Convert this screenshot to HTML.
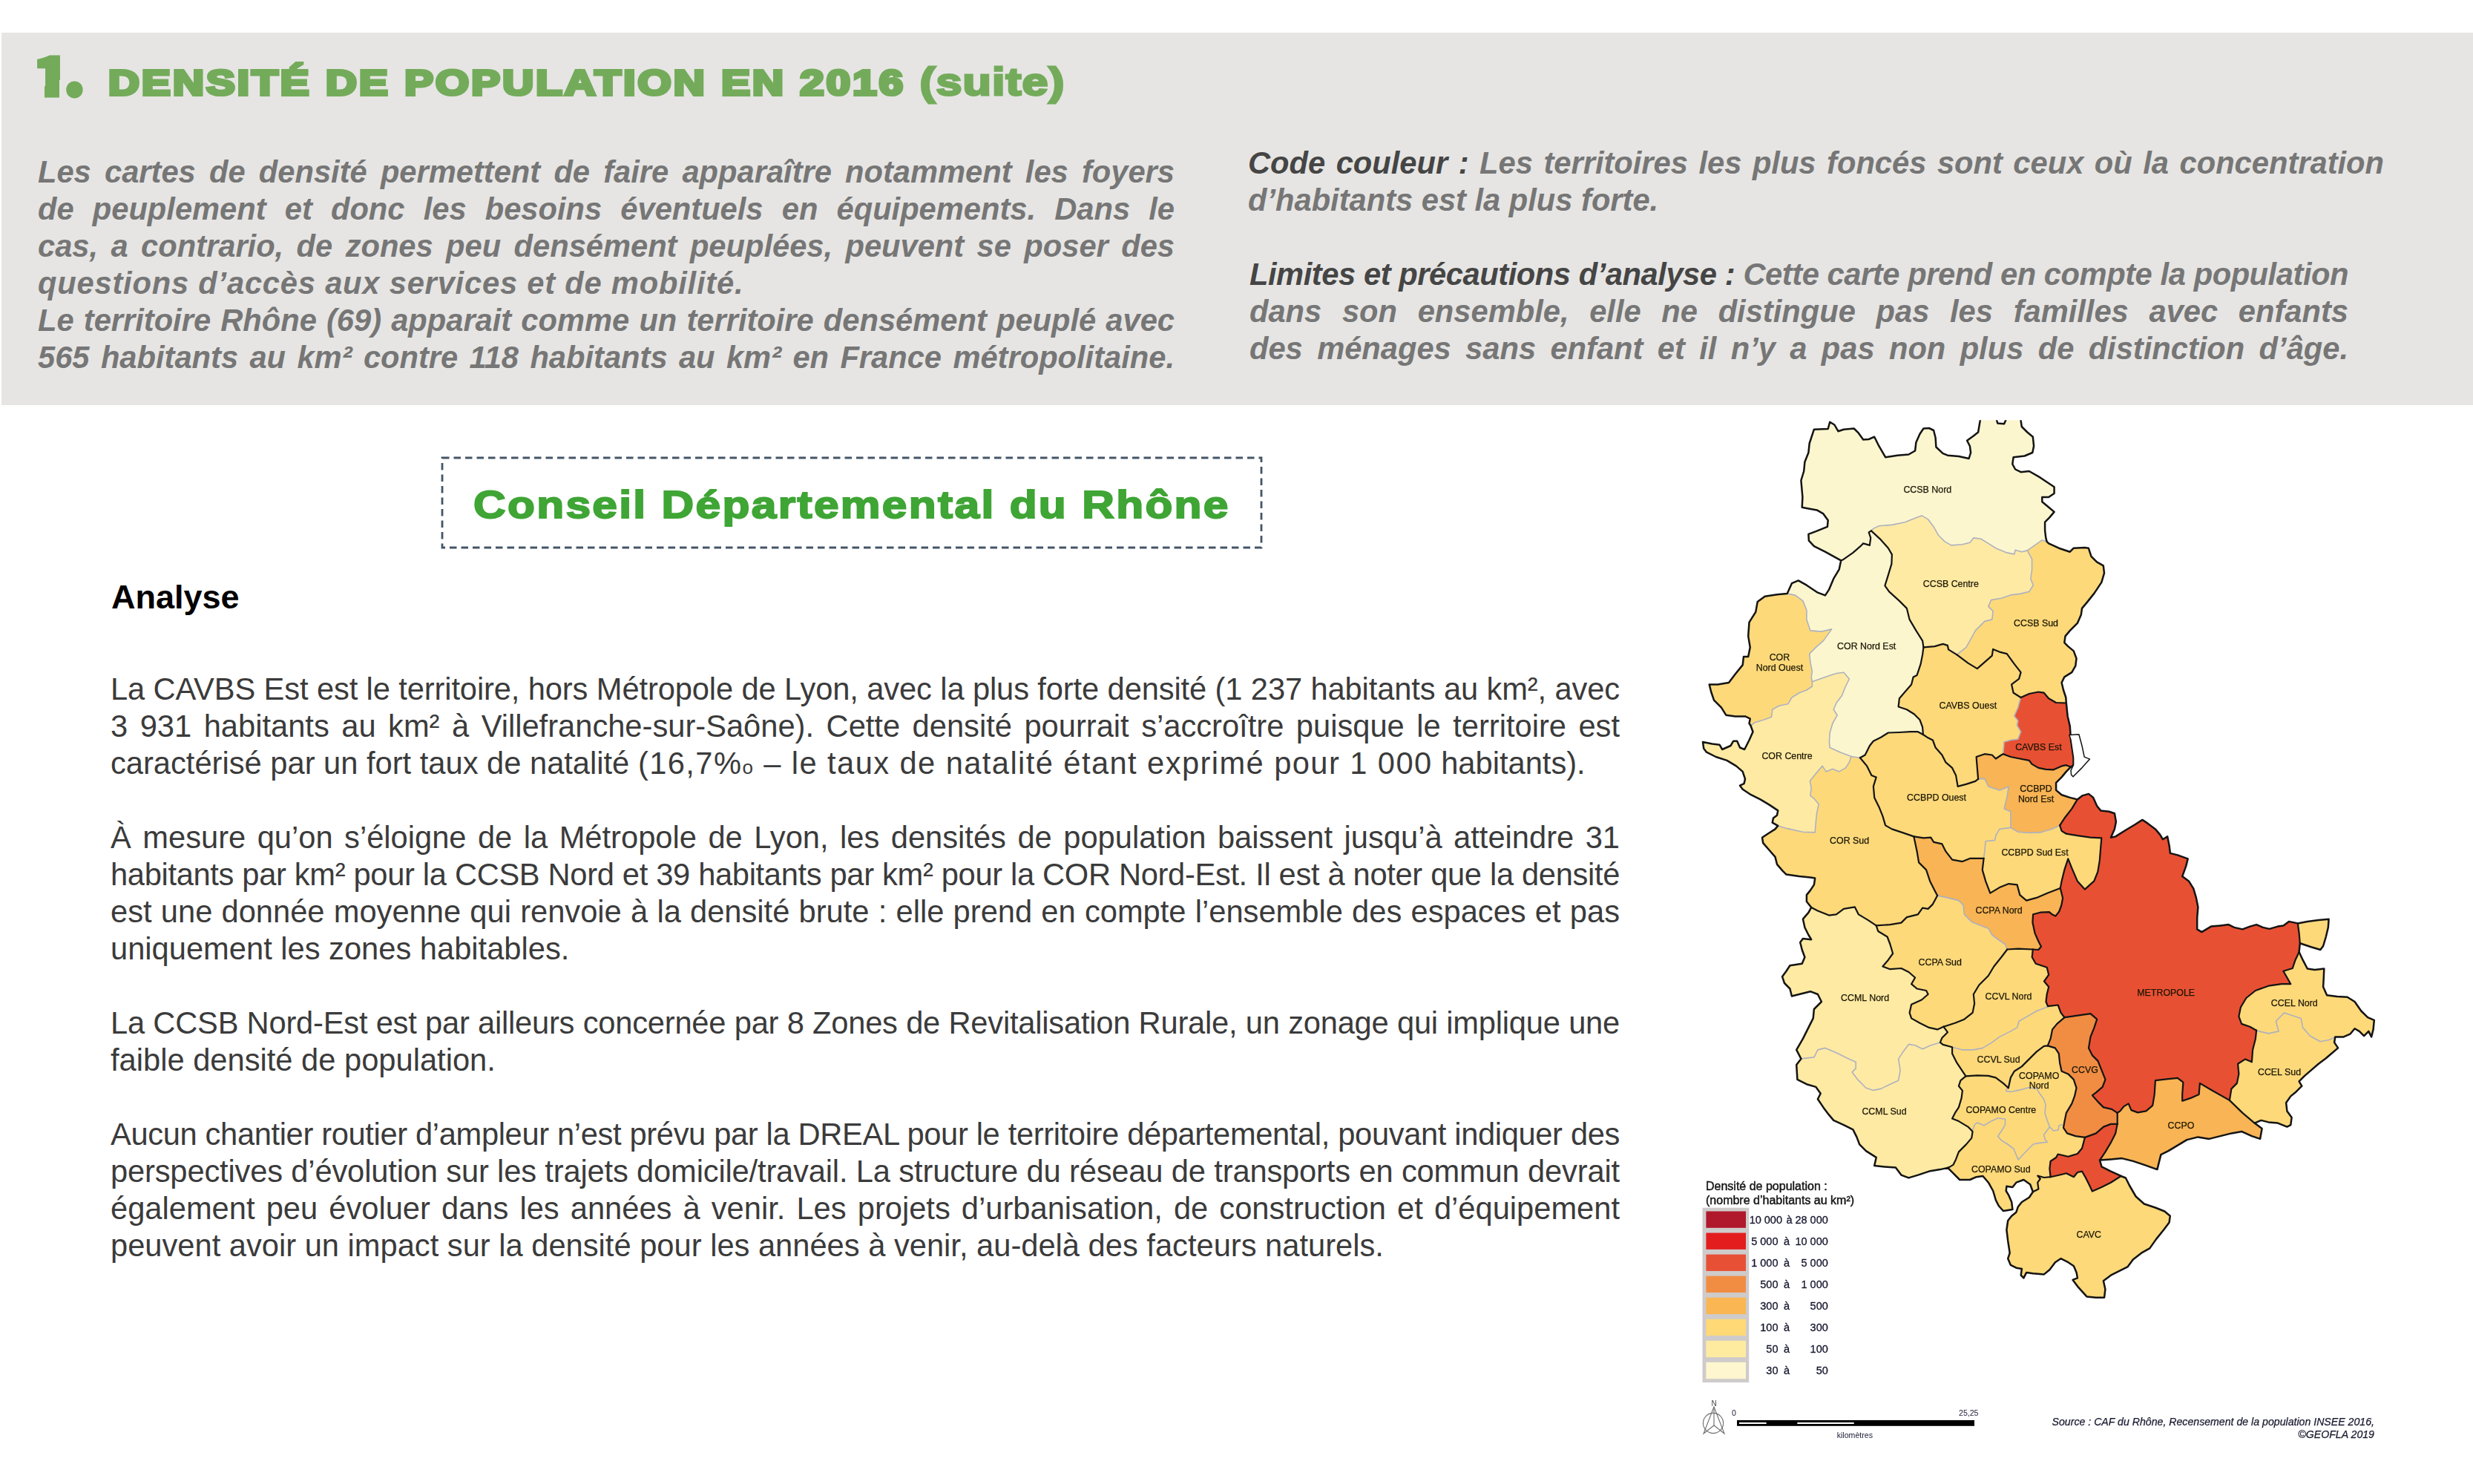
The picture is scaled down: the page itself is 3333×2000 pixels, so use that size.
<!DOCTYPE html>
<html lang="fr"><head><meta charset="utf-8"><title>Densité de population en 2016 (suite)</title>
<style>
html,body{margin:0;padding:0;background:#fff;}
body{width:3333px;height:2000px;position:relative;overflow:hidden;font-family:"Liberation Sans",sans-serif;}
.band{position:absolute;left:2px;top:44px;width:3331px;height:502px;background:#e6e5e3;}
.abs{position:absolute;}
.hnum{font-family:"Noto Sans CJK JP","Liberation Sans",sans-serif;font-weight:900;color:#73ab5a;white-space:nowrap;transform-origin:0 0;}
.htitle{left:146px;top:77.2px;font-size:47.5px;line-height:70px;font-weight:bold;color:#73ab5a;-webkit-text-stroke:4.2px #73ab5a;white-space:nowrap;letter-spacing:2.63px;transform:scaleX(1.22);transform-origin:0 0;}
.it{font-style:italic;font-weight:bold;font-size:41.67px;line-height:50px;color:#767676;text-align:justify;}
.it b{color:#454545;}
.jl{display:block;text-align:justify;text-align-last:justify;white-space:nowrap;}
.ll{display:block;text-align:left;white-space:nowrap;}
.body{font-size:41.67px;line-height:50px;color:#3b3b3b;}
.cd{left:596px;top:617px;width:1104px;height:121px;}
.cdt{left:637.5px;top:645px;font-size:52.5px;line-height:70px;font-weight:bold;color:#3fa535;-webkit-text-stroke:2px #3fa535;white-space:nowrap;letter-spacing:2.04px;transform:scaleX(1.15);transform-origin:0 0;}
.an{left:150px;top:779.5px;font-size:45px;line-height:50px;font-weight:bold;color:#000;white-space:nowrap;}
</style></head><body>
<div class="band"></div>
<div class="abs hnum" id="h1" style="left:44.5px;top:48px;font-size:71.5px;line-height:100px;-webkit-text-stroke:5px #73ab5a;transform:scaleX(1.12)">1</div><div class="abs" style="left:40px;top:108px;width:20px;height:28px;background:#e6e5e3"></div><div class="abs" style="left:80.3px;top:108px;width:34px;height:28px;background:#e6e5e3"></div><div class="abs hnum" id="hdot" style="left:86px;top:44px;font-size:82px;line-height:100px;-webkit-text-stroke:5px #73ab5a">.</div>
<div class="abs htitle">DENSITÉ DE POPULATION EN 2016 <span style="-webkit-text-stroke-width:2.8px;letter-spacing:0.9px;font-size:51.5px;line-height:0">(suite)</span></div>

<div class="abs it" style="left:51px;top:207px;width:1532px;">
<span class="jl">Les cartes de densité permettent de faire apparaître notamment les foyers</span>
<span class="jl">de peuplement et donc les besoins éventuels en équipements. Dans le</span>
<span class="jl">cas, a contrario, de zones peu densément peuplées, peuvent se poser des</span>
<span class="ll" style="letter-spacing:0.8px">questions d’accès aux services et de mobilité.</span>
<span class="jl">Le territoire Rhône (69) apparait comme un territoire densément peuplé avec</span>
<span class="jl">565 habitants au km² contre 118 habitants au km² en France métropolitaine.</span>
</div>

<div class="abs it" style="left:1682px;top:195px;width:1531px;">
<span class="jl"><b>Code couleur :</b> Les territoires les plus foncés sont ceux où la concentration</span>
<span class="ll">d’habitants est la plus forte.</span>
</div>
<div class="abs it" style="left:1684px;top:345px;width:1481px;">
<span class="jl" style="letter-spacing:-0.45px"><b>Limites et précautions d’analyse :</b> Cette carte prend en compte la population</span>
<span class="jl">dans son ensemble, elle ne distingue pas les familles avec enfants</span>
<span class="jl">des ménages sans enfant et il n’y a pas non plus de distinction d’âge.</span>
</div>

<svg class="abs cd" viewBox="0 0 1104 121" style="overflow:visible"><rect x="0" y="0" width="1104" height="121" fill="none" stroke="#445566" stroke-width="2.8" stroke-dasharray="9.5 6"/></svg>
<div class="abs cdt">Conseil Départemental du Rhône</div>
<div class="abs an">Analyse</div>

<div class="abs body" style="left:149px;top:904px;width:2034px;">
<span class="jl" style="letter-spacing:-0.125px">La CAVBS Est est le territoire, hors Métropole de Lyon, avec la plus forte densité (1 237 habitants au km², avec</span>
<span class="jl">3 931 habitants au km² à Villefranche-sur-Saône). Cette densité pourrait s’accroître puisque le territoire est</span>
<span class="ll">caractérisé par un fort taux de natalité <span style="letter-spacing:1.42px">(16,7%<span style="font-size:26px;line-height:0">o</span> – le taux de natalité étant exprimé pour 1 000</span> habitants).</span>
<span class="ll">&nbsp;</span>
<span class="jl">À mesure qu’on s’éloigne de la Métropole de Lyon, les densités de population baissent jusqu’à atteindre 31</span>
<span class="jl" style="letter-spacing:-0.335px">habitants par km² pour la CCSB Nord et 39 habitants par km² pour la COR Nord-Est. Il est à noter que la densité</span>
<span class="jl">est une donnée moyenne qui renvoie à la densité brute : elle prend en compte l’ensemble des espaces et pas</span>
<span class="ll">uniquement les zones habitables.</span>
<span class="ll">&nbsp;</span>
<span class="jl" style="letter-spacing:-0.215px">La CCSB Nord-Est est par ailleurs concernée par 8 Zones de Revitalisation Rurale, un zonage qui implique une</span>
<span class="ll">faible densité de population.</span>
<span class="ll">&nbsp;</span>
<span class="jl" style="letter-spacing:-0.36px">Aucun chantier routier d’ampleur n’est prévu par la DREAL pour le territoire départemental, pouvant indiquer des</span>
<span class="jl" style="letter-spacing:-0.165px">perspectives d’évolution sur les trajets domicile/travail. La structure du réseau de transports en commun devrait</span>
<span class="jl">également peu évoluer dans les années à venir. Les projets d’urbanisation, de construction et d’équipement</span>
<span class="ll">peuvent avoir un impact sur la densité pour les années à venir, au-delà des facteurs naturels.</span>
</div>

<!--MAP-->
<svg class="abs" style="left:0;top:0" width="3333" height="2000" viewBox="0 0 3333 2000">
<defs><clipPath id="dep"><polygon points="2481.2,755.4 2459.9,743.7 2444.9,736.2 2437.9,728.7 2437.4,719.9 2447.4,716.2 2462.9,709.9 2463.7,701.2 2457.4,692.4 2448.7,687.4 2434.9,684.9 2428.7,683.7 2429.4,670 2427.4,647.5 2431.2,635 2432.4,622.5 2437.4,610 2438.7,597.5 2444.9,578.7 2463.7,578 2466.2,568.7 2472.4,572.5 2477.4,581.2 2484.9,578.7 2498.7,577.5 2504.9,583.7 2511.2,592.5 2518.7,592 2526.2,588.7 2532.4,601.2 2541.1,616.2 2557.4,613.7 2572.4,612.5 2581.1,607.5 2582.4,596.2 2587.4,585 2592.4,577.5 2599.9,577 2606.1,580 2608.6,590 2609.4,602.5 2618.6,611.2 2624.9,613.7 2639.9,615 2653.6,618 2656.1,610 2654.9,601.2 2651.1,593.7 2659.8,587.5 2666.1,582.5 2668.6,567.5 2670.3,555 2687.8,555 2692.3,570.5 2701.1,571.2 2708.1,555 2721.8,555 2724.8,575 2732.3,582.5 2739.8,588.7 2741.1,601.2 2739.3,610 2728.6,614.5 2713.6,616.2 2712.3,625.5 2716.1,632.5 2723.6,636.2 2734.8,635 2749.8,643.7 2768.6,656.2 2768.6,665 2761.1,670 2752.3,670 2752.3,676.2 2759.8,682.5 2768.6,689.9 2762.3,697.4 2756.1,703.7 2756.1,714.9 2757.3,724.9 2758.6,729.9 2761.1,732.4 2774.8,738.7 2789.8,743.7 2794.8,738.7 2809.8,737.9 2814.8,738.7 2818.5,749.9 2826,757.4 2834.8,762.4 2836,772.4 2832.3,784.9 2822.3,799.9 2812.3,812.4 2806,819.9 2804.8,828.6 2799.8,839.9 2789.8,849.9 2783.5,857.4 2782.3,866.1 2787.3,871.1 2794.8,877.4 2798.5,887.4 2797.3,897.4 2792.3,906.1 2782.3,912.4 2778.6,920 2781,930 2784.3,940 2784.8,947.5 2786.7,965.5 2789.8,978.8 2791,997 2792.8,1009.2 2794.6,1021.3 2794.6,1031 2791,1033.7 2784.8,1039.9 2778.6,1047.4 2771.1,1054.9 2771.1,1064.9 2778.6,1071.2 2789.8,1074.9 2799.8,1077.4 2800.5,1076.9 2806.2,1072.4 2815,1069.9 2821.2,1074.9 2826.2,1086.2 2831.2,1092.4 2842.4,1093.7 2849.9,1096.2 2851.9,1107.4 2849.9,1117.4 2844.9,1128.7 2851.2,1127.4 2864.9,1118.7 2877.4,1111.2 2887.4,1104.9 2894.9,1109.9 2904.9,1117.4 2911.2,1124.9 2914.9,1131.2 2921.2,1127.4 2923.7,1139.9 2924.9,1149.9 2934.9,1152.4 2948.7,1157.4 2946.2,1167.4 2941.2,1181.1 2949.9,1187.4 2956.2,1197.4 2959.9,1209.9 2962.4,1222.4 2961.2,1237.4 2961.2,1252.4 2967.4,1256.1 2979.9,1248.6 2992.4,1247.4 3003.6,1246.1 3011.1,1249.9 3022.4,1252.4 3032.4,1248.6 3041.1,1246.1 3049.9,1249.9 3058.6,1251.9 3069.9,1248.6 3077.4,1247.4 3084.9,1241.9 3096.8,1244.4 3096.8,1244.5 3109.8,1242 3124.8,1240 3138.6,1238.8 3137.8,1250 3134.8,1262.5 3131.1,1275 3127.3,1280 3114.8,1276.2 3099.8,1271.2 3098.6,1283 3103.6,1293.7 3109.8,1305.5 3119.8,1307 3132.3,1305.5 3131.8,1317.5 3131.1,1330 3136.1,1341.2 3149.8,1343 3163.6,1343.7 3173.6,1350 3182.3,1362.5 3191.1,1371.2 3199.8,1374.9 3198.6,1387.4 3196.1,1397.4 3192.3,1389.9 3186.1,1396.2 3179.8,1389.9 3173.6,1386.2 3167.3,1393.7 3158.6,1397.4 3147.3,1397.4 3146.1,1404.9 3151.1,1412.4 3143.6,1418.7 3134.8,1426.2 3124.8,1433.7 3114.8,1442.4 3106.1,1449.9 3098.6,1457.4 3102.3,1463.7 3094.8,1471.2 3087.3,1477.4 3081.1,1486.2 3082.4,1497.4 3088.6,1506.1 3087.3,1516.1 3082.4,1518.6 3069.9,1513.6 3057.4,1512.4 3047.4,1509.9 3038.6,1513.6 3048.6,1521.1 3046.1,1534.9 3034.9,1531.1 3021.1,1524.9 3007.4,1527.4 2992.4,1531.1 2977.4,1534.9 2962.4,1532.4 2947.4,1536.1 2934.9,1543.6 2922.4,1551.1 2912.4,1556.1 2907.4,1576.1 2889.9,1569.9 2874.9,1564.9 2859.9,1561.1 2844.9,1562.4 2830,1563.6 2832.5,1572.4 2844.9,1578.6 2858.7,1584.9 2858.6,1585 2864.9,1587.5 2869.9,1597.5 2878.6,1612.5 2889.8,1622.5 2904.8,1627.5 2917.3,1632.5 2924.8,1638.7 2923.6,1647.5 2916.1,1657.5 2906.1,1669.9 2897.3,1682.4 2886.1,1688.7 2874.8,1697.4 2867.4,1707.4 2857.4,1712.4 2844.9,1718.7 2834.9,1726.2 2837.4,1737.4 2836.1,1748.7 2824.9,1748.7 2812.4,1747.4 2801.1,1734.9 2793.6,1724.9 2799.9,1722.4 2798.6,1714.9 2794.9,1706.2 2787.4,1701.2 2777.4,1696.2 2769.9,1701.2 2762.4,1711.2 2754.9,1717.4 2739.9,1716.2 2731.2,1714.9 2727.4,1722.4 2723.7,1718.7 2724.9,1709.9 2717.4,1708.7 2709.9,1704.9 2706.2,1696.2 2708.7,1688.7 2706.2,1672.4 2704.4,1657.5 2706.2,1645 2711.2,1638.7 2717.4,1633.7 2719.9,1626.2 2724.9,1620 2734.9,1613.7 2739.9,1606.2 2736.2,1596.2 2727.4,1590 2717.4,1593.7 2712.4,1600 2704.4,1598.7 2703.7,1605 2707.4,1611.2 2711.2,1620 2712.4,1630 2699.9,1632 2693.7,1625 2689.9,1617.5 2686.2,1605 2679.9,1593.7 2672.4,1585 2663.7,1586.2 2654.9,1590 2641.2,1590 2632.4,1581.2 2624.9,1573.7 2626.1,1573.6 2614.9,1576.1 2599.9,1578.6 2584.9,1583.6 2572.4,1587.4 2562.4,1583.6 2554.9,1573.6 2539.9,1572.4 2526.2,1571.1 2528.7,1559.9 2514.9,1551.1 2506.2,1542.4 2502.4,1532.4 2497.4,1522.4 2484.9,1516.1 2471.2,1509.9 2464.9,1502.4 2457.4,1492.4 2449.9,1481.2 2453.7,1473.7 2447.4,1464.9 2434.9,1461.2 2422.4,1454.9 2421.2,1434.9 2427.4,1426.9 2421.2,1414.9 2429.9,1399.9 2437.4,1384.9 2443.7,1372.4 2444.9,1360 2454.9,1350 2449.9,1340 2439.9,1336.2 2424.9,1340 2414.9,1342.5 2412.4,1332.5 2405,1325 2402,1316.2 2407.5,1308.7 2412.4,1301.2 2428.7,1298.7 2432.4,1290 2428.7,1280 2426.2,1270 2429.9,1265 2441.2,1266.2 2437.4,1260 2432.4,1250 2429.9,1238.6 2437.4,1229.9 2441.2,1222.9 2434.9,1214.9 2434.9,1206.1 2439.9,1199.9 2444.9,1192.4 2446.2,1183.6 2439.9,1182.4 2424.9,1181.1 2407.5,1178.6 2402.5,1173.6 2395,1164.9 2392.5,1154.9 2385,1146.2 2376.2,1136.2 2375,1128.7 2382.5,1123.7 2392.5,1117.4 2396.2,1112.9 2388.7,1108.7 2390,1102.4 2395,1098.7 2396.2,1092.4 2385,1084.9 2372.5,1077.4 2360,1071.2 2348.7,1063.7 2345,1058.7 2350.5,1056.2 2352,1049.9 2348.7,1039.9 2340,1032.4 2327.5,1024.9 2312.5,1020 2300,1013.7 2296.2,1008.7 2295,1000 2307.5,1002.5 2317.5,1003.7 2321.2,1010 2332.5,1005 2336.2,998.7 2341.2,998.7 2345,1007.5 2351.2,1010 2357.5,997.5 2362.5,986.2 2359.5,978 2357.5,975 2358.7,968.7 2352.5,965.5 2338.7,965.5 2326.2,963.7 2320,953.7 2310,943.7 2306.2,932.5 2303.7,922.4 2315,922.4 2330,919.9 2338.7,908.6 2348.7,896.1 2350,884.9 2356.2,884.9 2358.7,872.4 2356.2,857.4 2357.5,838.6 2366.2,824.9 2368.7,811.1 2378.7,803.7 2395,801.2 2408.7,799.9 2414.9,786.2 2423.7,782.4 2434.9,788.7 2449.9,798.7 2459.9,802.4 2464.9,794.9 2471.2,779.9 2478.7,767.4 2481.2,755.4"/></clipPath></defs>
<defs><clipPath id="mapclip"><rect x="2280" y="566.3" width="960" height="1400"/></clipPath></defs>
<g clip-path="url(#mapclip)"><g style="filter:blur(0.75px)">
<g clip-path="url(#dep)">
<polygon points="2481.2,755.4 2459.9,743.7 2444.9,736.2 2437.9,728.7 2437.4,719.9 2447.4,716.2 2462.9,709.9 2463.7,701.2 2457.4,692.4 2448.7,687.4 2434.9,684.9 2428.7,683.7 2429.4,670 2427.4,647.5 2431.2,635 2432.4,622.5 2437.4,610 2438.7,597.5 2444.9,578.7 2463.7,578 2466.2,568.7 2472.4,572.5 2477.4,581.2 2484.9,578.7 2498.7,577.5 2504.9,583.7 2511.2,592.5 2518.7,592 2526.2,588.7 2532.4,601.2 2541.1,616.2 2557.4,613.7 2572.4,612.5 2581.1,607.5 2582.4,596.2 2587.4,585 2592.4,577.5 2599.9,577 2606.1,580 2608.6,590 2609.4,602.5 2618.6,611.2 2624.9,613.7 2639.9,615 2653.6,618 2656.1,610 2654.9,601.2 2651.1,593.7 2659.8,587.5 2666.1,582.5 2668.6,567.5 2670.3,555 2687.8,555 2692.3,570.5 2701.1,571.2 2708.1,555 2721.8,555 2724.8,575 2732.3,582.5 2739.8,588.7 2741.1,601.2 2739.3,610 2728.6,614.5 2713.6,616.2 2712.3,625.5 2716.1,632.5 2723.6,636.2 2734.8,635 2749.8,643.7 2768.6,656.2 2768.6,665 2761.1,670 2752.3,670 2752.3,676.2 2759.8,682.5 2768.6,689.9 2762.3,697.4 2756.1,703.7 2756.1,714.9 2757.3,724.9 2758.6,729.9 2761.1,732.4 2774.8,738.7 2789.8,743.7 2794.8,738.7 2809.8,737.9 2814.8,738.7 2818.5,749.9 2826,757.4 2834.8,762.4 2836,772.4 2832.3,784.9 2822.3,799.9 2812.3,812.4 2806,819.9 2804.8,828.6 2799.8,839.9 2789.8,849.9 2783.5,857.4 2782.3,866.1 2787.3,871.1 2794.8,877.4 2798.5,887.4 2797.3,897.4 2792.3,906.1 2782.3,912.4 2778.6,920 2781,930 2784.3,940 2784.8,947.5 2786.7,965.5 2789.8,978.8 2791,997 2792.8,1009.2 2794.6,1021.3 2794.6,1031 2791,1033.7 2784.8,1039.9 2778.6,1047.4 2771.1,1054.9 2771.1,1064.9 2778.6,1071.2 2789.8,1074.9 2799.8,1077.4 2800.5,1076.9 2806.2,1072.4 2815,1069.9 2821.2,1074.9 2826.2,1086.2 2831.2,1092.4 2842.4,1093.7 2849.9,1096.2 2851.9,1107.4 2849.9,1117.4 2844.9,1128.7 2851.2,1127.4 2864.9,1118.7 2877.4,1111.2 2887.4,1104.9 2894.9,1109.9 2904.9,1117.4 2911.2,1124.9 2914.9,1131.2 2921.2,1127.4 2923.7,1139.9 2924.9,1149.9 2934.9,1152.4 2948.7,1157.4 2946.2,1167.4 2941.2,1181.1 2949.9,1187.4 2956.2,1197.4 2959.9,1209.9 2962.4,1222.4 2961.2,1237.4 2961.2,1252.4 2967.4,1256.1 2979.9,1248.6 2992.4,1247.4 3003.6,1246.1 3011.1,1249.9 3022.4,1252.4 3032.4,1248.6 3041.1,1246.1 3049.9,1249.9 3058.6,1251.9 3069.9,1248.6 3077.4,1247.4 3084.9,1241.9 3096.8,1244.4 3096.8,1244.5 3109.8,1242 3124.8,1240 3138.6,1238.8 3137.8,1250 3134.8,1262.5 3131.1,1275 3127.3,1280 3114.8,1276.2 3099.8,1271.2 3098.6,1283 3103.6,1293.7 3109.8,1305.5 3119.8,1307 3132.3,1305.5 3131.8,1317.5 3131.1,1330 3136.1,1341.2 3149.8,1343 3163.6,1343.7 3173.6,1350 3182.3,1362.5 3191.1,1371.2 3199.8,1374.9 3198.6,1387.4 3196.1,1397.4 3192.3,1389.9 3186.1,1396.2 3179.8,1389.9 3173.6,1386.2 3167.3,1393.7 3158.6,1397.4 3147.3,1397.4 3146.1,1404.9 3151.1,1412.4 3143.6,1418.7 3134.8,1426.2 3124.8,1433.7 3114.8,1442.4 3106.1,1449.9 3098.6,1457.4 3102.3,1463.7 3094.8,1471.2 3087.3,1477.4 3081.1,1486.2 3082.4,1497.4 3088.6,1506.1 3087.3,1516.1 3082.4,1518.6 3069.9,1513.6 3057.4,1512.4 3047.4,1509.9 3038.6,1513.6 3048.6,1521.1 3046.1,1534.9 3034.9,1531.1 3021.1,1524.9 3007.4,1527.4 2992.4,1531.1 2977.4,1534.9 2962.4,1532.4 2947.4,1536.1 2934.9,1543.6 2922.4,1551.1 2912.4,1556.1 2907.4,1576.1 2889.9,1569.9 2874.9,1564.9 2859.9,1561.1 2844.9,1562.4 2830,1563.6 2832.5,1572.4 2844.9,1578.6 2858.7,1584.9 2858.6,1585 2864.9,1587.5 2869.9,1597.5 2878.6,1612.5 2889.8,1622.5 2904.8,1627.5 2917.3,1632.5 2924.8,1638.7 2923.6,1647.5 2916.1,1657.5 2906.1,1669.9 2897.3,1682.4 2886.1,1688.7 2874.8,1697.4 2867.4,1707.4 2857.4,1712.4 2844.9,1718.7 2834.9,1726.2 2837.4,1737.4 2836.1,1748.7 2824.9,1748.7 2812.4,1747.4 2801.1,1734.9 2793.6,1724.9 2799.9,1722.4 2798.6,1714.9 2794.9,1706.2 2787.4,1701.2 2777.4,1696.2 2769.9,1701.2 2762.4,1711.2 2754.9,1717.4 2739.9,1716.2 2731.2,1714.9 2727.4,1722.4 2723.7,1718.7 2724.9,1709.9 2717.4,1708.7 2709.9,1704.9 2706.2,1696.2 2708.7,1688.7 2706.2,1672.4 2704.4,1657.5 2706.2,1645 2711.2,1638.7 2717.4,1633.7 2719.9,1626.2 2724.9,1620 2734.9,1613.7 2739.9,1606.2 2736.2,1596.2 2727.4,1590 2717.4,1593.7 2712.4,1600 2704.4,1598.7 2703.7,1605 2707.4,1611.2 2711.2,1620 2712.4,1630 2699.9,1632 2693.7,1625 2689.9,1617.5 2686.2,1605 2679.9,1593.7 2672.4,1585 2663.7,1586.2 2654.9,1590 2641.2,1590 2632.4,1581.2 2624.9,1573.7 2626.1,1573.6 2614.9,1576.1 2599.9,1578.6 2584.9,1583.6 2572.4,1587.4 2562.4,1583.6 2554.9,1573.6 2539.9,1572.4 2526.2,1571.1 2528.7,1559.9 2514.9,1551.1 2506.2,1542.4 2502.4,1532.4 2497.4,1522.4 2484.9,1516.1 2471.2,1509.9 2464.9,1502.4 2457.4,1492.4 2449.9,1481.2 2453.7,1473.7 2447.4,1464.9 2434.9,1461.2 2422.4,1454.9 2421.2,1434.9 2427.4,1426.9 2421.2,1414.9 2429.9,1399.9 2437.4,1384.9 2443.7,1372.4 2444.9,1360 2454.9,1350 2449.9,1340 2439.9,1336.2 2424.9,1340 2414.9,1342.5 2412.4,1332.5 2405,1325 2402,1316.2 2407.5,1308.7 2412.4,1301.2 2428.7,1298.7 2432.4,1290 2428.7,1280 2426.2,1270 2429.9,1265 2441.2,1266.2 2437.4,1260 2432.4,1250 2429.9,1238.6 2437.4,1229.9 2441.2,1222.9 2434.9,1214.9 2434.9,1206.1 2439.9,1199.9 2444.9,1192.4 2446.2,1183.6 2439.9,1182.4 2424.9,1181.1 2407.5,1178.6 2402.5,1173.6 2395,1164.9 2392.5,1154.9 2385,1146.2 2376.2,1136.2 2375,1128.7 2382.5,1123.7 2392.5,1117.4 2396.2,1112.9 2388.7,1108.7 2390,1102.4 2395,1098.7 2396.2,1092.4 2385,1084.9 2372.5,1077.4 2360,1071.2 2348.7,1063.7 2345,1058.7 2350.5,1056.2 2352,1049.9 2348.7,1039.9 2340,1032.4 2327.5,1024.9 2312.5,1020 2300,1013.7 2296.2,1008.7 2295,1000 2307.5,1002.5 2317.5,1003.7 2321.2,1010 2332.5,1005 2336.2,998.7 2341.2,998.7 2345,1007.5 2351.2,1010 2357.5,997.5 2362.5,986.2 2359.5,978 2357.5,975 2358.7,968.7 2352.5,965.5 2338.7,965.5 2326.2,963.7 2320,953.7 2310,943.7 2306.2,932.5 2303.7,922.4 2315,922.4 2330,919.9 2338.7,908.6 2348.7,896.1 2350,884.9 2356.2,884.9 2358.7,872.4 2356.2,857.4 2357.5,838.6 2366.2,824.9 2368.7,811.1 2378.7,803.7 2395,801.2 2408.7,799.9 2414.9,786.2 2423.7,782.4 2434.9,788.7 2449.9,798.7 2459.9,802.4 2464.9,794.9 2471.2,779.9 2478.7,767.4 2481.2,755.4" fill="#fdd97a"/>
<polygon points="2481.2,755.4 2459.9,743.7 2444.9,736.2 2437.9,728.7 2437.4,719.9 2447.4,716.2 2462.9,709.9 2463.7,701.2 2457.4,692.4 2448.7,687.4 2434.9,684.9 2428.7,683.7 2429.4,670 2427.4,647.5 2431.2,635 2432.4,622.5 2437.4,610 2438.7,597.5 2444.9,578.7 2463.7,578 2466.2,568.7 2472.4,572.5 2477.4,581.2 2484.9,578.7 2498.7,577.5 2504.9,583.7 2511.2,592.5 2518.7,592 2526.2,588.7 2532.4,601.2 2541.1,616.2 2557.4,613.7 2572.4,612.5 2581.1,607.5 2582.4,596.2 2587.4,585 2592.4,577.5 2599.9,577 2606.1,580 2608.6,590 2609.4,602.5 2618.6,611.2 2624.9,613.7 2639.9,615 2653.6,618 2656.1,610 2654.9,601.2 2651.1,593.7 2659.8,587.5 2666.1,582.5 2668.6,567.5 2670.3,555 2687.8,555 2692.3,570.5 2701.1,571.2 2708.1,555 2721.8,555 2724.8,575 2732.3,582.5 2739.8,588.7 2741.1,601.2 2739.3,610 2728.6,614.5 2713.6,616.2 2712.3,625.5 2716.1,632.5 2723.6,636.2 2734.8,635 2749.8,643.7 2768.6,656.2 2768.6,665 2761.1,670 2752.3,670 2752.3,676.2 2759.8,682.5 2768.6,689.9 2762.3,697.4 2756.1,703.7 2756.1,714.9 2757.3,724.9 2758.6,729.9 2752.3,727.9 2742.3,734.9 2732.3,741.9 2724.8,743.7 2716.1,741.2 2714.8,746.9 2704.8,744.9 2689.8,738.7 2679.8,732.4 2669.8,726.2 2659.8,724.9 2654.9,731.2 2644.9,733.7 2629.9,734.9 2621.1,729.9 2612.4,721.2 2606.1,709.9 2598.6,699.9 2589.9,694.9 2579.9,698.7 2567.4,703.7 2549.9,707.4 2532.4,708.7 2524.9,712.4 2521.9,715.4 2518.7,717.4 2521.2,724.9 2519.9,734.9 2511.2,732.4 2507.4,736.2 2497.4,744.9 2484.9,753.7 2481.2,755.4" fill="#fcf6cf" stroke="#fcf6cf" stroke-width="1"/>
<polygon points="2481.2,755.4 2484.9,753.7 2497.4,744.9 2507.4,736.2 2511.2,732.4 2519.9,734.9 2521.2,724.9 2518.7,717.4 2521.9,715.4 2534.9,727.4 2544.9,738.7 2549.9,747.4 2549.4,759.9 2544.9,774.9 2540.4,789.4 2546.1,797.4 2559.9,809.9 2569.9,819.9 2573.6,834.9 2582.4,849.9 2591.1,863.6 2592.4,872.4 2591.1,882.4 2588.6,894.9 2583.6,909.9 2578.6,912.5 2576.1,922.5 2567.4,932.5 2559.9,941.2 2558.6,952.5 2569.9,956.2 2579.9,962.5 2587.4,970 2591.1,980 2591.9,990 2584.9,986.2 2574.9,986.2 2559.9,987 2544.9,987.5 2534.9,993.7 2524.9,998.7 2519.9,1005 2513.7,1017.5 2506.9,1021.2 2494.9,1019.5 2479.9,1013.7 2466.2,1007.5 2465.4,1000 2466.2,987.5 2469.9,975 2476.2,963.7 2471.2,956.2 2474.9,947.5 2482.4,937.5 2487.4,925 2492.4,915 2484.9,906.2 2474.9,907.5 2459.9,912.5 2442.4,918.7 2441.2,912.5 2442.4,904.9 2439.9,892.4 2438.7,881.1 2447.4,872.4 2457.4,863.6 2463.7,854.9 2468.7,847.9 2454.9,851.1 2439.9,849.9 2434.9,834.9 2434.9,822.4 2429.9,809.9 2419.9,802.4 2408.7,799.9 2414.9,786.2 2423.7,782.4 2434.9,788.7 2449.9,798.7 2459.9,802.4 2464.9,794.9 2471.2,779.9 2478.7,767.4 2481.2,755.4" fill="#fcf6cf" stroke="#fcf6cf" stroke-width="1"/>
<polygon points="2521.9,715.4 2534.9,727.4 2544.9,738.7 2549.9,747.4 2549.4,759.9 2544.9,774.9 2540.4,789.4 2546.1,797.4 2559.9,809.9 2569.9,819.9 2573.6,834.9 2582.4,849.9 2591.1,863.6 2592.4,872.4 2607.4,871.1 2618.6,867.9 2624.9,869.9 2626.1,875.4 2637.4,882.4 2649.9,872.4 2654.9,863.6 2662.3,849.9 2674.8,837.4 2684.8,834.9 2686.1,823.6 2679.8,817.4 2683.6,808.6 2697.3,806.2 2709.8,801.9 2722.3,800.4 2734.8,797.4 2740.3,788.7 2736.8,779.9 2738.6,767.4 2738.6,753.7 2732.3,741.9 2724.8,743.7 2716.1,741.2 2714.8,746.9 2704.8,744.9 2689.8,738.7 2679.8,732.4 2669.8,726.2 2659.8,724.9 2654.9,731.2 2644.9,733.7 2629.9,734.9 2621.1,729.9 2612.4,721.2 2606.1,709.9 2598.6,699.9 2589.9,694.9 2579.9,698.7 2567.4,703.7 2549.9,707.4 2532.4,708.7 2524.9,712.4 2521.9,715.4" fill="#ffeaa3" stroke="#ffeaa3" stroke-width="1"/>
<polygon points="2442.4,918.7 2459.9,912.5 2474.9,907.5 2484.9,906.2 2492.4,915 2487.4,925 2482.4,937.5 2474.9,947.5 2471.2,956.2 2476.2,963.7 2469.9,975 2466.2,987.5 2465.4,1000 2466.2,1007.5 2479.9,1013.7 2494.9,1019.5 2492.4,1027.4 2487.4,1034.9 2478.7,1039.9 2469.9,1036.2 2461.2,1039.9 2456.2,1032.4 2447.4,1042.4 2439.4,1052.4 2441.2,1062.4 2439.9,1072.4 2444.9,1076.2 2451.2,1083.7 2448.7,1094.9 2447.4,1107.4 2446.2,1121.9 2429.9,1121.2 2409.9,1116.9 2396.2,1112.9 2388.7,1108.7 2390,1102.4 2395,1098.7 2396.2,1092.4 2385,1084.9 2372.5,1077.4 2360,1071.2 2348.7,1063.7 2345,1058.7 2350.5,1056.2 2352,1049.9 2348.7,1039.9 2340,1032.4 2327.5,1024.9 2312.5,1020 2300,1013.7 2296.2,1008.7 2295,1000 2307.5,1002.5 2317.5,1003.7 2321.2,1010 2332.5,1005 2336.2,998.7 2341.2,998.7 2345,1007.5 2351.2,1010 2357.5,997.5 2362.5,986.2 2359.5,978 2365,973.7 2377.5,970 2387.5,966.2 2388.7,956.2 2397.5,951.2 2409.9,948.7 2414.9,940 2424.9,933.7 2434.9,930 2442.4,925 2442.4,918.7" fill="#ffeaa3" stroke="#ffeaa3" stroke-width="1"/>
<polygon points="2441.2,1222.9 2449.9,1227.4 2464.9,1233.6 2474.9,1232.4 2484.9,1224.9 2499.9,1222.4 2504.9,1232.4 2517.4,1239.9 2528.7,1247.4 2531.2,1255 2543.6,1262.5 2547.4,1272.5 2551.1,1285 2544.9,1293.7 2537.4,1302.5 2547.4,1306.2 2562.4,1305 2572.4,1310 2581.1,1317.5 2576.1,1326.2 2583.6,1332.5 2596.1,1335 2598.6,1340 2589.9,1347.5 2576.1,1353.7 2573.6,1364.9 2576.1,1372.4 2587.4,1378.7 2599.9,1384.9 2611.1,1387.4 2619.4,1383.7 2624.9,1391.2 2617.4,1398.7 2614.9,1404.9 2618.6,1407.9 2631.1,1411.2 2631.1,1419.9 2637.4,1432.4 2644.9,1443.7 2649.4,1450.4 2642.4,1456.2 2639.9,1463.7 2644.9,1469.9 2643.6,1479.9 2639.9,1492.4 2634.9,1499.9 2631.1,1507.4 2639.9,1511.1 2652.4,1518.6 2658.6,1524.9 2657.3,1533.6 2649.9,1542.4 2639.9,1552.4 2636.1,1562.4 2632.4,1569.9 2626.1,1573.6 2614.9,1576.1 2599.9,1578.6 2584.9,1583.6 2572.4,1587.4 2562.4,1583.6 2554.9,1573.6 2539.9,1572.4 2526.2,1571.1 2528.7,1559.9 2514.9,1551.1 2506.2,1542.4 2502.4,1532.4 2497.4,1522.4 2484.9,1516.1 2471.2,1509.9 2464.9,1502.4 2457.4,1492.4 2449.9,1481.2 2453.7,1473.7 2447.4,1464.9 2434.9,1461.2 2422.4,1454.9 2421.2,1434.9 2427.4,1426.9 2421.2,1414.9 2429.9,1399.9 2437.4,1384.9 2443.7,1372.4 2444.9,1360 2454.9,1350 2449.9,1340 2439.9,1336.2 2424.9,1340 2414.9,1342.5 2412.4,1332.5 2405,1325 2402,1316.2 2407.5,1308.7 2412.4,1301.2 2428.7,1298.7 2432.4,1290 2428.7,1280 2426.2,1270 2429.9,1265 2441.2,1266.2 2437.4,1260 2432.4,1250 2429.9,1238.6 2437.4,1229.9 2441.2,1222.9" fill="#ffeaa3" stroke="#ffeaa3" stroke-width="1"/>
<polygon points="2666.1,1049.9 2664.8,1034.9 2663.6,1020 2674.8,1016.2 2684.8,1017.5 2689.8,1022.5 2697.3,1017.5 2699.8,1016.2 2709.8,1020 2722.3,1022.5 2734.8,1024.9 2738.6,1029.9 2747.3,1034.9 2757.3,1036.9 2767.3,1037.4 2778.6,1032.4 2784.8,1031.2 2791,1033.7 2784.8,1039.9 2778.6,1047.4 2771.1,1054.9 2771.1,1064.9 2778.6,1071.2 2789.8,1074.9 2799.8,1077.4 2792.3,1089.9 2783.5,1101.2 2776.1,1112.4 2764.8,1117.4 2749.8,1121.9 2734.8,1122.4 2719.8,1121.2 2709.8,1115.4 2709.8,1107.4 2709.8,1093.7 2701.1,1089.9 2704.8,1074.9 2707.3,1059.9 2694.8,1064.9 2679.8,1059.9 2674.8,1049.4 2666.1,1049.9" fill="#f8b455" stroke="#f8b455" stroke-width="1"/>
<polygon points="2579.4,1127.4 2592.4,1129.4 2602.4,1128.7 2606.1,1134.9 2617.4,1137.4 2622.4,1147.4 2631.1,1158.6 2644.9,1161.1 2654.9,1156.9 2673.6,1156.9 2671.8,1172.4 2676.1,1187.4 2682.3,1203.6 2694.8,1196.1 2707.3,1191.1 2718.6,1192.4 2722.3,1206.1 2731.1,1213.6 2744.8,1209.9 2759.8,1203.6 2776.8,1196.9 2780.1,1210.3 2778.3,1220 2775.2,1228.5 2770.4,1234.6 2765.5,1232.2 2761.9,1229.1 2749.8,1229.7 2740.1,1232.2 2739.4,1243.1 2742.5,1257.6 2747.3,1268.5 2751,1275.8 2747.3,1280 2739.8,1279.5 2719.8,1278.7 2705.3,1279.5 2702.3,1272.5 2694.8,1267.5 2684.8,1260 2679.8,1251.2 2669.8,1247.5 2657.3,1242.4 2647.4,1232.4 2646.1,1219.9 2639.9,1213.6 2624.9,1209.9 2611.1,1206.9 2607.4,1199.9 2601.1,1187.4 2596.1,1172.4 2586.1,1162.4 2583.6,1147.4 2579.4,1127.4" fill="#f8b455" stroke="#f8b455" stroke-width="1"/>
<polygon points="2853.7,1499.9 2857.4,1497.4 2862.4,1491.1 2868.7,1487.4 2872.4,1496.1 2881.2,1499.4 2892.4,1497.4 2901.2,1489.9 2903.7,1474.9 2904.9,1456.2 2919.9,1454.4 2934.9,1452.9 2942.4,1458.7 2941.2,1474.9 2941.2,1483.7 2952.4,1479.9 2963.6,1474.9 2964.9,1459.9 2979.9,1468.7 3004.9,1482.9 3022.4,1499.9 3038.6,1513.6 3048.6,1521.1 3046.1,1534.9 3034.9,1531.1 3021.1,1524.9 3007.4,1527.4 2992.4,1531.1 2977.4,1534.9 2962.4,1532.4 2947.4,1536.1 2934.9,1543.6 2922.4,1551.1 2912.4,1556.1 2907.4,1576.1 2889.9,1569.9 2874.9,1564.9 2859.9,1561.1 2844.9,1562.4 2830,1563.6 2837.5,1552.4 2844.9,1539.9 2851.2,1527.4 2853.7,1514.9 2853.7,1499.9" fill="#f8b455" stroke="#f8b455" stroke-width="1"/>
<polygon points="2782.5,1371.2 2800,1368.7 2817.5,1366.2 2826.2,1373.7 2822.5,1384.9 2817.5,1397.4 2815,1412.4 2820,1422.4 2827.5,1429.9 2832.5,1442.4 2837.5,1454.9 2833.7,1464.9 2825,1472.4 2820,1476.2 2827.5,1484.9 2835,1492.4 2846.2,1494.9 2853.7,1499.9 2853.7,1514.9 2844.9,1514.9 2835,1518.6 2825,1527.4 2810,1532.9 2797.3,1531.1 2786,1527.4 2781,1519.9 2782.3,1512.4 2784.8,1499.9 2792.3,1487.4 2796,1477.4 2798.5,1466.2 2794.8,1454.9 2787.3,1447.4 2778.6,1443.7 2776.1,1432.4 2774.8,1419.9 2769.8,1412.4 2759.8,1409.4 2763.6,1399.9 2766.1,1387.4 2772.3,1379.9 2782.5,1371.2" fill="#f08d43" stroke="#f08d43" stroke-width="1"/>
<polygon points="2723.6,940 2734.8,935 2747.3,932.5 2754.8,933.7 2761.1,941.2 2771.1,947 2784.8,947.5 2786.7,965.5 2789.8,978.8 2791,997 2792.8,1009.2 2794.6,1021.3 2794.6,1031 2791,1033.7 2784.8,1031.2 2778.6,1032.4 2767.3,1037.4 2757.3,1036.9 2747.3,1034.9 2738.6,1029.9 2734.8,1024.9 2722.3,1022.5 2709.8,1020 2699.8,1016.2 2701.1,1000 2709.8,997.5 2719.8,996.2 2723.6,986.2 2718.6,977.5 2719.8,971.2 2714.8,965 2719.8,953.7 2723.6,940" fill="#e85033" stroke="#e85033" stroke-width="1"/>
<polygon points="2800.5,1076.9 2806.2,1072.4 2815,1069.9 2821.2,1074.9 2826.2,1086.2 2831.2,1092.4 2842.4,1093.7 2849.9,1096.2 2851.9,1107.4 2849.9,1117.4 2844.9,1128.7 2851.2,1127.4 2864.9,1118.7 2877.4,1111.2 2887.4,1104.9 2894.9,1109.9 2904.9,1117.4 2911.2,1124.9 2914.9,1131.2 2921.2,1127.4 2923.7,1139.9 2924.9,1149.9 2934.9,1152.4 2948.7,1157.4 2946.2,1167.4 2941.2,1181.1 2949.9,1187.4 2956.2,1197.4 2959.9,1209.9 2962.4,1222.4 2961.2,1237.4 2961.2,1252.4 2967.4,1256.1 2979.9,1248.6 2992.4,1247.4 3003.6,1246.1 3011.1,1249.9 3022.4,1252.4 3032.4,1248.6 3041.1,1246.1 3049.9,1249.9 3058.6,1251.9 3069.9,1248.6 3077.4,1247.4 3084.9,1241.9 3096.8,1244.4 3096.8,1244.5 3098.6,1257.5 3099.8,1271.2 3098.6,1283 3093.6,1293.7 3089.8,1305 3077.4,1308.7 3082.4,1317.5 3087.3,1326.2 3074.9,1326.2 3057.4,1328.7 3039.9,1335 3027.4,1345 3019.9,1357.5 3017.4,1369.9 3021.1,1379.9 3032.4,1383.7 3041.1,1388.7 3039.9,1399.9 3036.1,1414.9 3034.9,1431.2 3026.1,1427.4 3016.1,1433.7 3017.4,1447.4 3014.9,1459.9 3007.4,1467.4 3004.9,1482.9 2979.9,1468.7 2964.9,1459.9 2963.6,1474.9 2952.4,1479.9 2941.2,1483.7 2941.2,1474.9 2942.4,1458.7 2934.9,1452.9 2919.9,1454.4 2904.9,1456.2 2903.7,1474.9 2901.2,1489.9 2892.4,1497.4 2881.2,1499.4 2872.4,1496.1 2868.7,1487.4 2862.4,1491.1 2857.4,1497.4 2853.7,1499.9 2846.2,1494.9 2835,1492.4 2827.5,1484.9 2820,1476.2 2825,1472.4 2833.7,1464.9 2837.5,1454.9 2832.5,1442.4 2827.5,1429.9 2820,1422.4 2815,1412.4 2817.5,1397.4 2822.5,1384.9 2826.2,1373.7 2817.5,1366.2 2800,1368.7 2782.5,1371.2 2777.5,1364.9 2773.7,1354.5 2760,1356.2 2757.5,1350 2758.7,1340 2761.2,1330 2755,1322.5 2761.2,1313.7 2758.7,1303.7 2743.7,1298.7 2738.7,1290 2739.8,1279.5 2747.3,1280 2751,1275.8 2747.3,1268.5 2742.5,1257.6 2739.4,1243.1 2740.1,1232.2 2749.8,1229.7 2761.9,1229.1 2765.5,1232.2 2770.4,1234.6 2775.2,1228.5 2778.3,1220 2780.1,1210.3 2776.8,1196.9 2778.6,1187.4 2782.3,1172.4 2787.3,1157.4 2792.3,1169.9 2799.8,1187.4 2809.8,1198.6 2822.3,1187.4 2827.3,1174.9 2829.8,1159.9 2831,1144.9 2832.3,1129.4 2817.3,1128.7 2799.8,1126.2 2784.8,1123.7 2778.6,1119.9 2776.1,1112.4 2783.5,1101.2 2792.3,1089.9 2799.8,1077.4" fill="#e85033" stroke="#e85033" stroke-width="1"/>
<polygon points="2853.7,1514.9 2851.2,1527.4 2844.9,1539.9 2837.5,1552.4 2830,1563.6 2832.5,1572.4 2844.9,1578.6 2858.7,1584.9 2858.6,1585 2844.9,1593.7 2832.4,1600 2819.9,1605.5 2816.1,1597.5 2811.1,1587.5 2806.1,1578.7 2799.9,1580 2794.9,1586.2 2784.9,1581.2 2774.9,1583.7 2763.6,1586.2 2762.4,1575 2763.6,1565 2771.1,1560 2773.6,1555.5 2787.4,1558.7 2799.9,1555 2806.1,1547.5 2808.7,1537.4 2810,1532.9 2825,1527.4 2835,1518.6 2844.9,1514.9 2853.7,1514.9" fill="#e85033" stroke="#e85033" stroke-width="1"/>
</g>
<g fill="none" stroke="#adb1c0" stroke-width="1.6" stroke-linejoin="round" stroke-linecap="round">
<polyline points="2758.6,729.9 2752.3,727.9 2742.3,734.9 2732.3,741.9"/>
<polyline points="2732.3,741.9 2724.8,743.7 2716.1,741.2 2714.8,746.9 2704.8,744.9 2689.8,738.7 2679.8,732.4 2669.8,726.2 2659.8,724.9 2654.9,731.2 2644.9,733.7 2629.9,734.9 2621.1,729.9 2612.4,721.2 2606.1,709.9 2598.6,699.9 2589.9,694.9 2579.9,698.7 2567.4,703.7 2549.9,707.4 2532.4,708.7 2524.9,712.4 2521.9,715.4"/>
<polyline points="2732.3,741.9 2738.6,753.7 2738.6,767.4 2736.8,779.9 2740.3,788.7 2734.8,797.4 2722.3,800.4 2709.8,801.9 2697.3,806.2 2683.6,808.6 2679.8,817.4 2686.1,823.6 2684.8,834.9 2674.8,837.4 2662.3,849.9 2654.9,863.6 2649.9,872.4 2637.4,882.4"/>
<polyline points="2408.7,799.9 2419.9,802.4 2429.9,809.9 2434.9,822.4 2434.9,834.9 2439.9,849.9 2454.9,851.1 2468.7,847.9 2463.7,854.9 2457.4,863.6 2447.4,872.4 2438.7,881.1 2439.9,892.4 2442.4,904.9 2441.2,912.5 2442.4,918.7"/>
<polyline points="2442.4,918.7 2442.4,925 2434.9,930 2424.9,933.7 2414.9,940 2409.9,948.7 2397.5,951.2 2388.7,956.2 2387.5,966.2 2377.5,970 2365,973.7 2359.5,978"/>
<polyline points="2442.4,918.7 2459.9,912.5 2474.9,907.5 2484.9,906.2 2492.4,915 2487.4,925 2482.4,937.5 2474.9,947.5 2471.2,956.2 2476.2,963.7 2469.9,975 2466.2,987.5 2465.4,1000 2466.2,1007.5 2479.9,1013.7 2494.9,1019.5"/>
<polyline points="2494.9,1019.5 2506.9,1021.2"/>
<polyline points="2396.2,1112.9 2409.9,1116.9 2429.9,1121.2 2446.2,1121.9 2447.4,1107.4 2448.7,1094.9 2451.2,1083.7 2444.9,1076.2 2439.9,1072.4 2441.2,1062.4 2439.4,1052.4 2447.4,1042.4 2456.2,1032.4 2461.2,1039.9 2469.9,1036.2 2478.7,1039.9 2487.4,1034.9 2492.4,1027.4 2494.9,1019.5"/>
<polyline points="2699.8,1016.2 2701.1,1000 2709.8,997.5 2719.8,996.2 2723.6,986.2 2718.6,977.5 2719.8,971.2 2714.8,965 2719.8,953.7 2723.6,940"/>
<polyline points="2666.1,1049.9 2674.8,1049.4 2679.8,1059.9 2694.8,1064.9 2707.3,1059.9 2704.8,1074.9 2701.1,1089.9 2709.8,1093.7 2709.8,1107.4 2709.8,1115.4"/>
<polyline points="2709.8,1115.4 2719.8,1121.2 2734.8,1122.4 2749.8,1121.9 2764.8,1117.4 2776.1,1112.4"/>
<polyline points="2709.8,1115.4 2694.8,1117.4 2689.8,1126.2 2688.6,1132.4 2676.1,1133.7 2674.8,1147.4 2673.6,1156.9"/>
<polyline points="2611.1,1206.9 2624.9,1209.9 2639.9,1213.6 2646.1,1219.9 2647.4,1232.4 2657.3,1242.4 2669.8,1247.5 2679.8,1251.2 2684.8,1260 2694.8,1267.5 2702.3,1272.5 2705.3,1279.5"/>
<polyline points="2427.4,1426.9 2444.9,1424.9 2449.9,1414.9 2459.9,1412.4 2474.9,1418.7 2489.9,1426.2 2501.2,1431.2 2501.2,1439.9 2496.2,1444.9 2503.7,1454.9 2514.9,1466.2 2524.9,1469.4 2534.9,1467.4 2547.4,1461.2 2558.6,1456.2 2561.1,1442.4 2558.6,1427.4 2564.9,1417.4 2572.4,1407.4 2581.1,1408.7 2591.1,1413.7 2602.4,1408.7 2614.9,1404.9"/>
<polyline points="2631.1,1411.2 2644.9,1414.9 2659.8,1414.9 2672.3,1412.4 2684.8,1404.9 2694.8,1397.4 2709.8,1389.9 2718.6,1384.9 2721.1,1376.2 2732.3,1369.9 2744.8,1362.5 2759.8,1357"/>
<polyline points="2705.7,1465.2 2703.6,1470.5 2709.9,1471.5 2722.5,1468.9 2734,1465.7 2745,1467.3 2748.8,1473.6 2755,1482 2757,1489.4 2756,1500 2759.3,1510.4 2762.5,1518.8 2767.7,1524 2774,1523 2775,1516.7 2779.3,1515.7"/>
<polyline points="2658.4,1523 2661.5,1515.7 2664.7,1513 2674,1516.7 2684.7,1510.4 2693,1506.7 2702.5,1508.3 2702.5,1515.7 2698.3,1523 2692.6,1531.4 2697.3,1536.7 2705.7,1542 2714,1548.3 2720,1563 2726.7,1556 2733,1549.3 2740.4,1542 2748.8,1540.4 2759.3,1539.3 2756.2,1535.6 2754.6,1529.3 2759.3,1523 2762.5,1518.8"/>
<polyline points="3041.1,1388.7 3044.9,1389.9 3057.4,1392.9 3071.1,1389.9 3067.4,1376.2 3078.6,1364.9 3089.8,1368.7 3101.1,1372.4 3103.6,1384.9 3113.6,1396.2 3127.3,1403.7 3139.8,1401.2 3147.3,1397.4"/>
</g>
<g fill="none" stroke="#141414" stroke-width="2.2" stroke-linejoin="round" stroke-linecap="round">
<polyline points="2481.2,755.4 2484.9,753.7 2497.4,744.9 2507.4,736.2 2511.2,732.4 2519.9,734.9 2521.2,724.9 2518.7,717.4 2521.9,715.4"/>
<polyline points="2521.9,715.4 2534.9,727.4 2544.9,738.7 2549.9,747.4 2549.4,759.9 2544.9,774.9 2540.4,789.4 2546.1,797.4 2559.9,809.9 2569.9,819.9 2573.6,834.9 2582.4,849.9 2591.1,863.6 2592.4,872.4"/>
<polyline points="2592.4,872.4 2607.4,871.1 2618.6,867.9 2624.9,869.9 2626.1,875.4 2637.4,882.4"/>
<polyline points="2637.4,882.4 2652.4,893.6 2664.8,901.1 2674.8,892.4 2684.8,883.6 2686.1,874.9 2694.8,878.6 2704.8,881.1 2714.8,894.9 2723.6,906.1 2721.1,914.9 2711.1,922.4 2713.6,933.7 2723.6,940"/>
<polyline points="2723.6,940 2734.8,935 2747.3,932.5 2754.8,933.7 2761.1,941.2 2771.1,947 2784.8,947.5"/>
<polyline points="2592.4,872.4 2591.1,882.4 2588.6,894.9 2583.6,909.9 2578.6,912.5 2576.1,922.5 2567.4,932.5 2559.9,941.2 2558.6,952.5 2569.9,956.2 2579.9,962.5 2587.4,970 2591.1,980 2591.9,990"/>
<polyline points="2506.9,1021.2 2513.7,1017.5 2519.9,1005 2524.9,998.7 2534.9,993.7 2544.9,987.5 2559.9,987 2574.9,986.2 2584.9,986.2 2591.9,990"/>
<polyline points="2591.9,990 2597.4,993.7 2604.9,997.5 2608.6,1007.5 2617.4,1017.5 2622.4,1027.4 2631.1,1034.9 2636.1,1044.9 2638.6,1059.9 2649.9,1056.9 2662.3,1052.9 2666.1,1049.9"/>
<polyline points="2666.1,1049.9 2664.8,1034.9 2663.6,1020 2674.8,1016.2 2684.8,1017.5 2689.8,1022.5 2697.3,1017.5 2699.8,1016.2"/>
<polyline points="2699.8,1016.2 2709.8,1020 2722.3,1022.5 2734.8,1024.9 2738.6,1029.9 2747.3,1034.9 2757.3,1036.9 2767.3,1037.4 2778.6,1032.4 2784.8,1031.2 2791,1033.7"/>
<polyline points="2799.8,1077.4 2792.3,1089.9 2783.5,1101.2 2776.1,1112.4"/>
<polyline points="2776.1,1112.4 2778.6,1119.9 2784.8,1123.7 2799.8,1126.2 2817.3,1128.7 2832.3,1129.4 2831,1144.9 2829.8,1159.9 2827.3,1174.9 2822.3,1187.4 2809.8,1198.6 2799.8,1187.4 2792.3,1169.9 2787.3,1157.4 2782.3,1172.4 2778.6,1187.4 2776.8,1196.9"/>
<polyline points="2506.9,1021.2 2516.2,1032.4 2522.4,1044.9 2528.7,1047.4 2524.9,1059.9 2526.2,1074.9 2532.4,1087.4 2537.4,1099.9 2541.1,1112.4 2549.9,1117.4 2564.9,1122.4 2579.4,1127.4"/>
<polyline points="2579.4,1127.4 2592.4,1129.4 2602.4,1128.7 2606.1,1134.9 2617.4,1137.4 2622.4,1147.4 2631.1,1158.6 2644.9,1161.1 2654.9,1156.9 2673.6,1156.9"/>
<polyline points="2673.6,1156.9 2671.8,1172.4 2676.1,1187.4 2682.3,1203.6 2694.8,1196.1 2707.3,1191.1 2718.6,1192.4 2722.3,1206.1 2731.1,1213.6 2744.8,1209.9 2759.8,1203.6 2776.8,1196.9"/>
<polyline points="2579.4,1127.4 2583.6,1147.4 2586.1,1162.4 2596.1,1172.4 2601.1,1187.4 2607.4,1199.9 2611.1,1206.9"/>
<polyline points="2611.1,1206.9 2604.9,1218.6 2598.6,1224.9 2591.1,1223.6 2584.9,1232.4 2569.9,1236.1 2562.4,1243.6 2547.4,1246.1 2528.7,1247.4"/>
<polyline points="2441.2,1222.9 2449.9,1227.4 2464.9,1233.6 2474.9,1232.4 2484.9,1224.9 2499.9,1222.4 2504.9,1232.4 2517.4,1239.9 2528.7,1247.4"/>
<polyline points="2528.7,1247.4 2531.2,1255 2543.6,1262.5 2547.4,1272.5 2551.1,1285 2544.9,1293.7 2537.4,1302.5 2547.4,1306.2 2562.4,1305 2572.4,1310 2581.1,1317.5 2576.1,1326.2 2583.6,1332.5 2596.1,1335 2598.6,1340 2589.9,1347.5 2576.1,1353.7 2573.6,1364.9 2576.1,1372.4 2587.4,1378.7 2599.9,1384.9 2611.1,1387.4 2619.4,1383.7"/>
<polyline points="2619.4,1383.7 2624.9,1391.2 2617.4,1398.7 2614.9,1404.9 2618.6,1407.9 2631.1,1411.2 2631.1,1419.9 2637.4,1432.4 2644.9,1443.7 2649.4,1450.4"/>
<polyline points="2649.4,1450.4 2642.4,1456.2 2639.9,1463.7 2644.9,1469.9 2643.6,1479.9 2639.9,1492.4 2634.9,1499.9 2631.1,1507.4 2639.9,1511.1 2652.4,1518.6 2658.6,1524.9 2657.3,1533.6 2649.9,1542.4 2639.9,1552.4 2636.1,1562.4 2632.4,1569.9 2626.1,1573.6"/>
<polyline points="2619.4,1383.7 2634.9,1378.7 2647.4,1373.7 2658.6,1364.9 2661.1,1352.5 2659.8,1340 2667.3,1327.5 2679.8,1315 2687.3,1302.5 2697.3,1290 2705.3,1279.5"/>
<polyline points="2705.3,1279.5 2719.8,1278.7 2739.8,1279.5"/>
<polyline points="2776.8,1196.9 2780.1,1210.3 2778.3,1220 2775.2,1228.5 2770.4,1234.6 2765.5,1232.2 2761.9,1229.1 2749.8,1229.7 2740.1,1232.2 2739.4,1243.1 2742.5,1257.6 2747.3,1268.5 2751,1275.8 2747.3,1280 2739.8,1279.5"/>
<polyline points="2739.8,1279.5 2738.7,1290 2743.7,1298.7 2758.7,1303.7 2761.2,1313.7 2755,1322.5 2761.2,1330 2758.7,1340 2757.5,1350 2760,1356.2 2773.7,1354.5 2777.5,1364.9 2782.5,1371.2"/>
<polyline points="2782.5,1371.2 2772.3,1379.9 2766.1,1387.4 2763.6,1399.9 2759.8,1409.4"/>
<polyline points="2759.8,1409.4 2754.8,1409.9 2744.8,1417.4 2734.8,1427.4 2724.8,1437.4 2714.8,1443.7 2709.8,1452.4 2706.8,1466.2"/>
<polyline points="2649.4,1450.4 2664.8,1449.4 2679.8,1449.9 2689.8,1452.4 2699.8,1459.9 2706.8,1466.2"/>
<polyline points="2759.8,1409.4 2769.8,1412.4 2774.8,1419.9 2776.1,1432.4 2778.6,1443.7 2787.3,1447.4 2794.8,1454.9 2798.5,1466.2 2796,1477.4 2792.3,1487.4 2784.8,1499.9 2782.3,1512.4 2781,1519.9 2786,1527.4 2797.3,1531.1 2810,1532.9"/>
<polyline points="2782.5,1371.2 2800,1368.7 2817.5,1366.2 2826.2,1373.7 2822.5,1384.9 2817.5,1397.4 2815,1412.4 2820,1422.4 2827.5,1429.9 2832.5,1442.4 2837.5,1454.9 2833.7,1464.9 2825,1472.4 2820,1476.2 2827.5,1484.9 2835,1492.4 2846.2,1494.9 2853.7,1499.9"/>
<polyline points="2853.7,1499.9 2853.7,1514.9"/>
<polyline points="2853.7,1514.9 2844.9,1514.9 2835,1518.6 2825,1527.4 2810,1532.9"/>
<polyline points="2853.7,1514.9 2851.2,1527.4 2844.9,1539.9 2837.5,1552.4 2830,1563.6"/>
<polyline points="2853.7,1499.9 2857.4,1497.4 2862.4,1491.1 2868.7,1487.4 2872.4,1496.1 2881.2,1499.4 2892.4,1497.4 2901.2,1489.9 2903.7,1474.9 2904.9,1456.2 2919.9,1454.4 2934.9,1452.9 2942.4,1458.7 2941.2,1474.9 2941.2,1483.7 2952.4,1479.9 2963.6,1474.9 2964.9,1459.9 2979.9,1468.7 3004.9,1482.9"/>
<polyline points="3004.9,1482.9 3022.4,1499.9 3038.6,1513.6"/>
<polyline points="3004.9,1482.9 3007.4,1467.4 3014.9,1459.9 3017.4,1447.4 3016.1,1433.7 3026.1,1427.4 3034.9,1431.2 3036.1,1414.9 3039.9,1399.9 3041.1,1388.7"/>
<polyline points="3041.1,1388.7 3032.4,1383.7 3021.1,1379.9 3017.4,1369.9 3019.9,1357.5 3027.4,1345 3039.9,1335 3057.4,1328.7 3074.9,1326.2 3087.3,1326.2 3082.4,1317.5 3077.4,1308.7 3089.8,1305 3093.6,1293.7 3098.6,1283"/>
<polyline points="3096.8,1244.5 3098.6,1257.5 3099.8,1271.2"/>
<polyline points="2763.6,1586.2 2762.4,1575 2763.6,1565 2771.1,1560 2773.6,1555.5 2787.4,1558.7 2799.9,1555 2806.1,1547.5 2808.7,1537.4 2810,1532.9"/>
<polyline points="2763.6,1586.2 2774.9,1583.7 2784.9,1581.2 2794.9,1586.2 2799.9,1580 2806.1,1578.7 2811.1,1587.5 2816.1,1597.5 2819.9,1605.5 2832.4,1600 2844.9,1593.7 2858.6,1585"/>
<polyline points="2739.9,1606.2 2747.4,1602.5 2746.2,1593.7 2749.9,1588.7 2746.2,1584.5 2754.9,1587 2763.6,1586.2"/>
<polygon points="2481.2,755.4 2459.9,743.7 2444.9,736.2 2437.9,728.7 2437.4,719.9 2447.4,716.2 2462.9,709.9 2463.7,701.2 2457.4,692.4 2448.7,687.4 2434.9,684.9 2428.7,683.7 2429.4,670 2427.4,647.5 2431.2,635 2432.4,622.5 2437.4,610 2438.7,597.5 2444.9,578.7 2463.7,578 2466.2,568.7 2472.4,572.5 2477.4,581.2 2484.9,578.7 2498.7,577.5 2504.9,583.7 2511.2,592.5 2518.7,592 2526.2,588.7 2532.4,601.2 2541.1,616.2 2557.4,613.7 2572.4,612.5 2581.1,607.5 2582.4,596.2 2587.4,585 2592.4,577.5 2599.9,577 2606.1,580 2608.6,590 2609.4,602.5 2618.6,611.2 2624.9,613.7 2639.9,615 2653.6,618 2656.1,610 2654.9,601.2 2651.1,593.7 2659.8,587.5 2666.1,582.5 2668.6,567.5 2670.3,555 2687.8,555 2692.3,570.5 2701.1,571.2 2708.1,555 2721.8,555 2724.8,575 2732.3,582.5 2739.8,588.7 2741.1,601.2 2739.3,610 2728.6,614.5 2713.6,616.2 2712.3,625.5 2716.1,632.5 2723.6,636.2 2734.8,635 2749.8,643.7 2768.6,656.2 2768.6,665 2761.1,670 2752.3,670 2752.3,676.2 2759.8,682.5 2768.6,689.9 2762.3,697.4 2756.1,703.7 2756.1,714.9 2757.3,724.9 2758.6,729.9 2761.1,732.4 2774.8,738.7 2789.8,743.7 2794.8,738.7 2809.8,737.9 2814.8,738.7 2818.5,749.9 2826,757.4 2834.8,762.4 2836,772.4 2832.3,784.9 2822.3,799.9 2812.3,812.4 2806,819.9 2804.8,828.6 2799.8,839.9 2789.8,849.9 2783.5,857.4 2782.3,866.1 2787.3,871.1 2794.8,877.4 2798.5,887.4 2797.3,897.4 2792.3,906.1 2782.3,912.4 2778.6,920 2781,930 2784.3,940 2784.8,947.5 2786.7,965.5 2789.8,978.8 2791,997 2792.8,1009.2 2794.6,1021.3 2794.6,1031 2791,1033.7 2784.8,1039.9 2778.6,1047.4 2771.1,1054.9 2771.1,1064.9 2778.6,1071.2 2789.8,1074.9 2799.8,1077.4 2800.5,1076.9 2806.2,1072.4 2815,1069.9 2821.2,1074.9 2826.2,1086.2 2831.2,1092.4 2842.4,1093.7 2849.9,1096.2 2851.9,1107.4 2849.9,1117.4 2844.9,1128.7 2851.2,1127.4 2864.9,1118.7 2877.4,1111.2 2887.4,1104.9 2894.9,1109.9 2904.9,1117.4 2911.2,1124.9 2914.9,1131.2 2921.2,1127.4 2923.7,1139.9 2924.9,1149.9 2934.9,1152.4 2948.7,1157.4 2946.2,1167.4 2941.2,1181.1 2949.9,1187.4 2956.2,1197.4 2959.9,1209.9 2962.4,1222.4 2961.2,1237.4 2961.2,1252.4 2967.4,1256.1 2979.9,1248.6 2992.4,1247.4 3003.6,1246.1 3011.1,1249.9 3022.4,1252.4 3032.4,1248.6 3041.1,1246.1 3049.9,1249.9 3058.6,1251.9 3069.9,1248.6 3077.4,1247.4 3084.9,1241.9 3096.8,1244.4 3096.8,1244.5 3109.8,1242 3124.8,1240 3138.6,1238.8 3137.8,1250 3134.8,1262.5 3131.1,1275 3127.3,1280 3114.8,1276.2 3099.8,1271.2 3098.6,1283 3103.6,1293.7 3109.8,1305.5 3119.8,1307 3132.3,1305.5 3131.8,1317.5 3131.1,1330 3136.1,1341.2 3149.8,1343 3163.6,1343.7 3173.6,1350 3182.3,1362.5 3191.1,1371.2 3199.8,1374.9 3198.6,1387.4 3196.1,1397.4 3192.3,1389.9 3186.1,1396.2 3179.8,1389.9 3173.6,1386.2 3167.3,1393.7 3158.6,1397.4 3147.3,1397.4 3146.1,1404.9 3151.1,1412.4 3143.6,1418.7 3134.8,1426.2 3124.8,1433.7 3114.8,1442.4 3106.1,1449.9 3098.6,1457.4 3102.3,1463.7 3094.8,1471.2 3087.3,1477.4 3081.1,1486.2 3082.4,1497.4 3088.6,1506.1 3087.3,1516.1 3082.4,1518.6 3069.9,1513.6 3057.4,1512.4 3047.4,1509.9 3038.6,1513.6 3048.6,1521.1 3046.1,1534.9 3034.9,1531.1 3021.1,1524.9 3007.4,1527.4 2992.4,1531.1 2977.4,1534.9 2962.4,1532.4 2947.4,1536.1 2934.9,1543.6 2922.4,1551.1 2912.4,1556.1 2907.4,1576.1 2889.9,1569.9 2874.9,1564.9 2859.9,1561.1 2844.9,1562.4 2830,1563.6 2832.5,1572.4 2844.9,1578.6 2858.7,1584.9 2858.6,1585 2864.9,1587.5 2869.9,1597.5 2878.6,1612.5 2889.8,1622.5 2904.8,1627.5 2917.3,1632.5 2924.8,1638.7 2923.6,1647.5 2916.1,1657.5 2906.1,1669.9 2897.3,1682.4 2886.1,1688.7 2874.8,1697.4 2867.4,1707.4 2857.4,1712.4 2844.9,1718.7 2834.9,1726.2 2837.4,1737.4 2836.1,1748.7 2824.9,1748.7 2812.4,1747.4 2801.1,1734.9 2793.6,1724.9 2799.9,1722.4 2798.6,1714.9 2794.9,1706.2 2787.4,1701.2 2777.4,1696.2 2769.9,1701.2 2762.4,1711.2 2754.9,1717.4 2739.9,1716.2 2731.2,1714.9 2727.4,1722.4 2723.7,1718.7 2724.9,1709.9 2717.4,1708.7 2709.9,1704.9 2706.2,1696.2 2708.7,1688.7 2706.2,1672.4 2704.4,1657.5 2706.2,1645 2711.2,1638.7 2717.4,1633.7 2719.9,1626.2 2724.9,1620 2734.9,1613.7 2739.9,1606.2 2736.2,1596.2 2727.4,1590 2717.4,1593.7 2712.4,1600 2704.4,1598.7 2703.7,1605 2707.4,1611.2 2711.2,1620 2712.4,1630 2699.9,1632 2693.7,1625 2689.9,1617.5 2686.2,1605 2679.9,1593.7 2672.4,1585 2663.7,1586.2 2654.9,1590 2641.2,1590 2632.4,1581.2 2624.9,1573.7 2626.1,1573.6 2614.9,1576.1 2599.9,1578.6 2584.9,1583.6 2572.4,1587.4 2562.4,1583.6 2554.9,1573.6 2539.9,1572.4 2526.2,1571.1 2528.7,1559.9 2514.9,1551.1 2506.2,1542.4 2502.4,1532.4 2497.4,1522.4 2484.9,1516.1 2471.2,1509.9 2464.9,1502.4 2457.4,1492.4 2449.9,1481.2 2453.7,1473.7 2447.4,1464.9 2434.9,1461.2 2422.4,1454.9 2421.2,1434.9 2427.4,1426.9 2421.2,1414.9 2429.9,1399.9 2437.4,1384.9 2443.7,1372.4 2444.9,1360 2454.9,1350 2449.9,1340 2439.9,1336.2 2424.9,1340 2414.9,1342.5 2412.4,1332.5 2405,1325 2402,1316.2 2407.5,1308.7 2412.4,1301.2 2428.7,1298.7 2432.4,1290 2428.7,1280 2426.2,1270 2429.9,1265 2441.2,1266.2 2437.4,1260 2432.4,1250 2429.9,1238.6 2437.4,1229.9 2441.2,1222.9 2434.9,1214.9 2434.9,1206.1 2439.9,1199.9 2444.9,1192.4 2446.2,1183.6 2439.9,1182.4 2424.9,1181.1 2407.5,1178.6 2402.5,1173.6 2395,1164.9 2392.5,1154.9 2385,1146.2 2376.2,1136.2 2375,1128.7 2382.5,1123.7 2392.5,1117.4 2396.2,1112.9 2388.7,1108.7 2390,1102.4 2395,1098.7 2396.2,1092.4 2385,1084.9 2372.5,1077.4 2360,1071.2 2348.7,1063.7 2345,1058.7 2350.5,1056.2 2352,1049.9 2348.7,1039.9 2340,1032.4 2327.5,1024.9 2312.5,1020 2300,1013.7 2296.2,1008.7 2295,1000 2307.5,1002.5 2317.5,1003.7 2321.2,1010 2332.5,1005 2336.2,998.7 2341.2,998.7 2345,1007.5 2351.2,1010 2357.5,997.5 2362.5,986.2 2359.5,978 2357.5,975 2358.7,968.7 2352.5,965.5 2338.7,965.5 2326.2,963.7 2320,953.7 2310,943.7 2306.2,932.5 2303.7,922.4 2315,922.4 2330,919.9 2338.7,908.6 2348.7,896.1 2350,884.9 2356.2,884.9 2358.7,872.4 2356.2,857.4 2357.5,838.6 2366.2,824.9 2368.7,811.1 2378.7,803.7 2395,801.2 2408.7,799.9 2414.9,786.2 2423.7,782.4 2434.9,788.7 2449.9,798.7 2459.9,802.4 2464.9,794.9 2471.2,779.9 2478.7,767.4 2481.2,755.4" stroke-width="2.5"/>
<polygon points="2788.9,990.4 2801.9,989.8 2806.1,1005.5 2809.2,1020.1 2816.5,1023.1 2806.1,1034.6 2794,1046.8 2791.6,1044.3 2791,1038.3 2794.6,1031 2794.6,1021.3 2792.8,1009.2 2791,997" stroke-width="1.5" fill="#fff"/>
</g>
</g><g style="filter:blur(0.45px)">
<g font-family="Liberation Sans, sans-serif" font-size="12.4" fill="#1c1706" stroke="#1c1706" stroke-width="0.25" text-anchor="middle">
<text x="2597.8" y="663.5">CCSB Nord</text>
<text x="2629.3" y="790.9">CCSB Centre</text>
<text x="2744" y="844.2">CCSB Sud</text>
<text x="2515.7" y="874.6">COR Nord Est</text>
<text x="2398.4" y="890.2">COR</text>
<text x="2398.4" y="904.2">Nord Ouest</text>
<text x="2652.3" y="955.4">CAVBS Ouest</text>
<text x="2747.4" y="1011.2">CAVBS Est</text>
<text x="2408.5" y="1023">COR Centre</text>
<text x="2610" y="1078.8">CCBPD Ouest</text>
<text x="2744" y="1067">CCBPD</text>
<text x="2744" y="1080.8">Nord Est</text>
<text x="2492.6" y="1136.6">COR Sud</text>
<text x="2742.5" y="1152.6">CCBPD Sud Est</text>
<text x="2694" y="1231.1">CCPA Nord</text>
<text x="2614.7" y="1300.6">CCPA Sud</text>
<text x="2513.6" y="1349.2">CCML Nord</text>
<text x="2707" y="1347.2">CCVL Nord</text>
<text x="2919.2" y="1342.2">METROPOLE</text>
<text x="3092.3" y="1356">CCEL Nord</text>
<text x="2693.6" y="1432.4">CCVL Sud</text>
<text x="2810" y="1446.2">CCVG</text>
<text x="3072" y="1449">CCEL Sud</text>
<text x="2748.2" y="1453.9">COPAMO</text>
<text x="2748.2" y="1467.2">Nord</text>
<text x="2539.5" y="1501.6">CCML Sud</text>
<text x="2696.8" y="1499.6">COPAMO Centre</text>
<text x="2939.4" y="1520.6">CCPO</text>
<text x="2696.8" y="1580.4">COPAMO Sud</text>
<text x="2815.3" y="1668.2">CAVC</text>
</g>
<g font-family="Liberation Sans, sans-serif" fill="#141414">
<text x="2299" y="1603.7" font-size="16" stroke="#141414" stroke-width="0.45">Densité de population :</text>
<text x="2299" y="1622.5" font-size="16" stroke="#141414" stroke-width="0.45">(nombre d’habitants au km²)</text>
<rect x="2294.5" y="1627.7" width="62.7" height="235.5" fill="#cfcbcb"/>
<rect x="2299.4" y="1632.5" width="53.6" height="22.3" fill="#b0182b"/>
<text x="2402" y="1648.5" font-size="14.5" text-anchor="end" fill="#15152e" stroke="#15152e" stroke-width="0.3">10 000</text>
<text x="2411.5" y="1648.5" font-size="14.5" text-anchor="middle" fill="#15152e" stroke="#15152e" stroke-width="0.3">à</text>
<text x="2463.8" y="1648.5" font-size="14.5" text-anchor="end" fill="#15152e" stroke="#15152e" stroke-width="0.3">28 000</text>
<rect x="2299.4" y="1661.56" width="53.6" height="22.3" fill="#e31d1e"/>
<text x="2396.5" y="1677.56" font-size="14.5" text-anchor="end" fill="#15152e" stroke="#15152e" stroke-width="0.3">5 000</text>
<text x="2408" y="1677.56" font-size="14.5" text-anchor="middle" fill="#15152e" stroke="#15152e" stroke-width="0.3">à</text>
<text x="2463.8" y="1677.56" font-size="14.5" text-anchor="end" fill="#15152e" stroke="#15152e" stroke-width="0.3">10 000</text>
<rect x="2299.4" y="1690.62" width="53.6" height="22.3" fill="#e85035"/>
<text x="2396.5" y="1706.62" font-size="14.5" text-anchor="end" fill="#15152e" stroke="#15152e" stroke-width="0.3">1 000</text>
<text x="2408" y="1706.62" font-size="14.5" text-anchor="middle" fill="#15152e" stroke="#15152e" stroke-width="0.3">à</text>
<text x="2463.8" y="1706.62" font-size="14.5" text-anchor="end" fill="#15152e" stroke="#15152e" stroke-width="0.3">5 000</text>
<rect x="2299.4" y="1719.68" width="53.6" height="22.3" fill="#f08d43"/>
<text x="2396.5" y="1735.68" font-size="14.5" text-anchor="end" fill="#15152e" stroke="#15152e" stroke-width="0.3">500</text>
<text x="2408" y="1735.68" font-size="14.5" text-anchor="middle" fill="#15152e" stroke="#15152e" stroke-width="0.3">à</text>
<text x="2463.8" y="1735.68" font-size="14.5" text-anchor="end" fill="#15152e" stroke="#15152e" stroke-width="0.3">1 000</text>
<rect x="2299.4" y="1748.74" width="53.6" height="22.3" fill="#f9b653"/>
<text x="2396.5" y="1764.74" font-size="14.5" text-anchor="end" fill="#15152e" stroke="#15152e" stroke-width="0.3">300</text>
<text x="2408" y="1764.74" font-size="14.5" text-anchor="middle" fill="#15152e" stroke="#15152e" stroke-width="0.3">à</text>
<text x="2463.8" y="1764.74" font-size="14.5" text-anchor="end" fill="#15152e" stroke="#15152e" stroke-width="0.3">500</text>
<rect x="2299.4" y="1777.8" width="53.6" height="22.3" fill="#fed976"/>
<text x="2396.5" y="1793.8" font-size="14.5" text-anchor="end" fill="#15152e" stroke="#15152e" stroke-width="0.3">100</text>
<text x="2408" y="1793.8" font-size="14.5" text-anchor="middle" fill="#15152e" stroke="#15152e" stroke-width="0.3">à</text>
<text x="2463.8" y="1793.8" font-size="14.5" text-anchor="end" fill="#15152e" stroke="#15152e" stroke-width="0.3">300</text>
<rect x="2299.4" y="1806.86" width="53.6" height="22.3" fill="#ffeba0"/>
<text x="2396.5" y="1822.86" font-size="14.5" text-anchor="end" fill="#15152e" stroke="#15152e" stroke-width="0.3">50</text>
<text x="2408" y="1822.86" font-size="14.5" text-anchor="middle" fill="#15152e" stroke="#15152e" stroke-width="0.3">à</text>
<text x="2463.8" y="1822.86" font-size="14.5" text-anchor="end" fill="#15152e" stroke="#15152e" stroke-width="0.3">100</text>
<rect x="2299.4" y="1835.92" width="53.6" height="22.3" fill="#fdf6cf"/>
<text x="2396.5" y="1851.92" font-size="14.5" text-anchor="end" fill="#15152e" stroke="#15152e" stroke-width="0.3">30</text>
<text x="2408" y="1851.92" font-size="14.5" text-anchor="middle" fill="#15152e" stroke="#15152e" stroke-width="0.3">à</text>
<text x="2463.8" y="1851.92" font-size="14.5" text-anchor="end" fill="#15152e" stroke="#15152e" stroke-width="0.3">50</text>
</g>
<rect x="2341" y="1914" width="320" height="7.8" fill="#000"/>
<rect x="2344" y="1917" width="36.6" height="2" fill="#fff"/><rect x="2422.3" y="1917" width="76.4" height="2" fill="#fff"/>
<g font-family="Liberation Sans, sans-serif" font-size="10.6" fill="#20203a"><text x="2334" y="1907.5">0</text><text x="2640" y="1907.5">25,25</text><text x="2475.7" y="1937.5">kilomètres</text></g>
<g fill="none" stroke="#6e6e6e" stroke-width="1.1"><circle cx="2309" cy="1918" r="13.6"/><path d="M2310 1896 L2296 1932 L2310 1921 L2324 1932 Z"/><path d="M2310 1896 L2310 1921"/></g>
<text x="2310" y="1894.5" font-family="Liberation Sans, sans-serif" font-size="10" text-anchor="middle" fill="#444">N</text>
<g font-family="Liberation Sans, sans-serif" font-size="14.15" font-style="italic" fill="#1a1a30" stroke="#1a1a30" stroke-width="0.25" text-anchor="end"><text x="3200" y="1921.3">Source : CAF du Rhône, Recensement de la population INSEE 2016,</text><text x="3200" y="1937.5">©GEOFLA 2019</text></g>
</g></g>
</svg>
<!--/MAP-->
</body></html>
